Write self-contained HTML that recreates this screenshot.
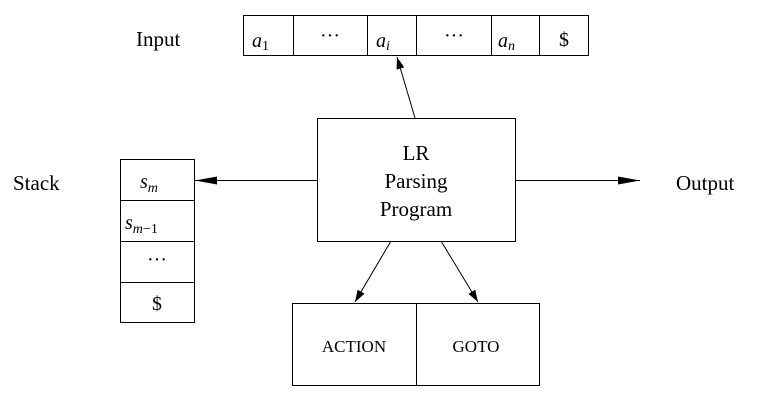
<!DOCTYPE html>
<html><head><meta charset="utf-8"><style>
html,body{margin:0;padding:0;background:#fff;}
svg text{font-family:"Liberation Serif",serif;fill:#000;}
</style></head><body>
<svg width="783" height="406" viewBox="0 0 783 406" xmlns="http://www.w3.org/2000/svg">
<defs>
<marker id="ah" markerWidth="12" markerHeight="8" refX="12" refY="4" orient="auto" markerUnits="userSpaceOnUse">
<path d="M0,0 L12,4 L0,8 z" fill="#000"/></marker>
<marker id="ah2" markerWidth="22" markerHeight="8" refX="22" refY="4" orient="auto" markerUnits="userSpaceOnUse">
<path d="M0,0 L22,4 L0,8 z" fill="#000"/></marker>
</defs>
<g stroke="#000" stroke-width="1" fill="none">
<rect x="243.5" y="15.5" width="345" height="40"/>
<line x1="293.5" y1="15" x2="293.5" y2="56"/>
<line x1="367.5" y1="15" x2="367.5" y2="56"/>
<line x1="416.5" y1="15" x2="416.5" y2="56"/>
<line x1="491.5" y1="15" x2="491.5" y2="56"/>
<line x1="539.5" y1="15" x2="539.5" y2="56"/>
<rect x="120.5" y="159.5" width="74" height="163"/>
<line x1="120" y1="200.5" x2="195" y2="200.5"/>
<line x1="120" y1="241.5" x2="195" y2="241.5"/>
<line x1="120" y1="282.5" x2="195" y2="282.5"/>
<rect x="317.5" y="118.5" width="198" height="123"/>
<rect x="292.5" y="303.5" width="247" height="82"/>
<line x1="416.5" y1="303" x2="416.5" y2="386"/>
<line x1="415" y1="118" x2="397" y2="57" marker-end="url(#ah)"/>
<line x1="317" y1="180.5" x2="195" y2="180.5" marker-end="url(#ah2)"/>
<line x1="515" y1="180.5" x2="640" y2="180.5" marker-end="url(#ah2)"/>
<line x1="391" y1="241" x2="355" y2="302" marker-end="url(#ah)"/>
<line x1="441" y1="241" x2="478" y2="302" marker-end="url(#ah)"/>
</g>
<text x="136" y="46" font-size="21">Input</text>
<text x="13" y="190" font-size="21">Stack</text>
<text x="676" y="190" font-size="21">Output</text>
<text x="252" y="47" font-size="20" font-style="italic">a<tspan font-style="normal" font-size="14" dy="3">1</tspan></text>
<text x="330" y="42" font-size="20" text-anchor="middle">···</text>
<text x="376" y="47" font-size="20" font-style="italic">a<tspan font-size="14" dy="3">i</tspan></text>
<text x="454" y="42" font-size="20" text-anchor="middle">···</text>
<text x="498" y="47" font-size="20" font-style="italic">a<tspan font-size="14" dy="3">n</tspan></text>
<text x="564" y="46" font-size="20" text-anchor="middle">$</text>
<text x="140" y="188" font-size="20" font-style="italic">s<tspan font-size="14" dy="4">m</tspan></text>
<text x="125" y="229" font-size="20" font-style="italic">s<tspan font-size="14" dy="4">m<tspan font-style="normal">−1</tspan></tspan></text>
<text x="157" y="266" font-size="20" text-anchor="middle">···</text>
<text x="157" y="310" font-size="20" text-anchor="middle">$</text>
<text x="416" y="160" font-size="21" text-anchor="middle">LR</text>
<text x="416" y="188" font-size="21" text-anchor="middle">Parsing</text>
<text x="416" y="216" font-size="21" text-anchor="middle">Program</text>
<text x="354" y="352" font-size="17" text-anchor="middle">ACTION</text>
<text x="476" y="352" font-size="17" text-anchor="middle">GOTO</text>
</svg>
</body></html>
